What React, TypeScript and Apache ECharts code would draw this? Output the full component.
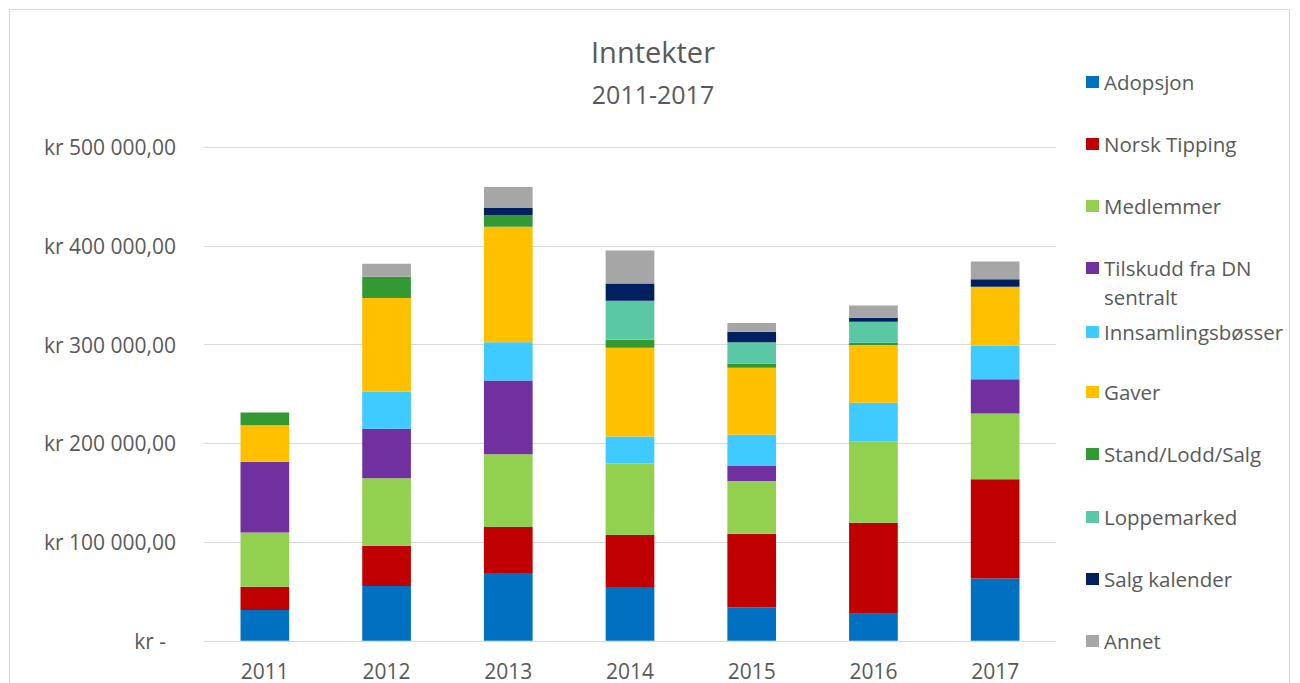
import React, { useEffect, useRef } from "react";
import * as echarts from "echarts";

const years = ["2011", "2012", "2013", "2014", "2015", "2016", "2017"];

const seriesNames = [
  "Adopsjon",
  "Norsk Tipping",
  "Medlemmer",
  "Tilskudd fra DN sentralt",
  "Innsamlingsbøsser",
  "Gaver",
  "Stand/Lodd/Salg",
  "Loppemarked",
  "Salg kalender",
  "Annet",
];

const adopsjon = [31100, 55400, 68600, 54400, 33800, 27400, 63200];
const norskTipping = [23600, 40900, 46600, 52700, 74600, 92200, 100600];
const medlemmer = [55100, 68500, 73700, 72600, 53400, 82700, 66600];
const tilskudd = [71600, 50000, 74900, 0, 15200, 0, 34700];
const innsamling = [0, 37900, 38800, 27400, 31700, 38800, 33800];
const gaver = [37100, 94500, 116900, 89800, 67900, 58500, 59800];
const standLoddSalg = [12900, 21600, 11800, 8100, 4400, 2300, 0];
const loppemarked = [0, 0, 0, 39500, 21600, 21300, 0];
const salgKalender = [0, 0, 7100, 17600, 10500, 4100, 7500];
const annet = [0, 13200, 21300, 33400, 8800, 12500, 18200];

const seriesValues = [
  adopsjon,
  norskTipping,
  medlemmer,
  tilskudd,
  innsamling,
  gaver,
  standLoddSalg,
  loppemarked,
  salgKalender,
  annet,
];

const colors = [
  "#0070C0",
  "#C00000",
  "#92D050",
  "#7030A0",
  "#3FCBFF",
  "#FFC000",
  "#339933",
  "#5BC8A5",
  "#002060",
  "#A6A6A6",
];

const yTicks = [0, 100000, 200000, 300000, 400000, 500000];

// legend icon centres (page y)
const legendCenters = [82, 144, 206, 268, 332, 392, 454, 517, 579, 641];

const FONT = "'Open Sans', 'Noto Sans', sans-serif";
const TEXT = "#595959";

function fmtKr(v: number): string {
  if (v === 0) return "{z|kr -}";
  const s = Math.round(v)
    .toString()
    .replace(/\B(?=(\d{3})+(?!\d))/g, " ");
  return "kr " + s + ",00";
}

export default function App() {
  const ref = useRef<HTMLDivElement>(null);

  useEffect(() => {
    document.documentElement.style.overflow = "hidden";
    document.body.style.overflow = "hidden";
    if (!ref.current) return;
    const chart = echarts.init(ref.current, null, { renderer: "svg" });

    const legends = seriesNames.map((name, i) => {
      const c = legendCenters[i] - 8;
      const isMulti = i === 3;
      return {
        data: [name],
        orient: "vertical",
        left: 1078,
        top: isMulti ? c - 43.5 : c - 11,
        padding: 0,
        itemWidth: 13,
        itemHeight: 12,
        icon: "rect",
        selectedMode: false,
        formatter: isMulti ? () => "\nTilskudd fra DN\nsentralt" : undefined,
        textStyle: isMulti
          ? {
              fontSize: 20.5,
              color: TEXT,
              fontFamily: FONT,
              lineHeight: 29,
            }
          : { fontSize: 20.5, color: TEXT, fontFamily: FONT, lineHeight: 22 },
      };
    });

    const option: any = {
      animation: false,
      backgroundColor: "#ffffff",
      title: [
        {
          text: "Inntekter",
          left: 645,
          top: 26,
          padding: 0,
          textAlign: "center",
          textStyle: {
            fontSize: 29,
            fontWeight: "normal",
            color: TEXT,
            fontFamily: FONT,
            lineHeight: 34,
          },
        },
        {
          text: "2011-2017",
          left: 645,
          top: 72,
          padding: 0,
          textAlign: "center",
          textStyle: {
            fontSize: 25,
            fontWeight: "normal",
            color: TEXT,
            fontFamily: FONT,
            lineHeight: 28,
          },
        },
      ],
      legend: legends,
      graphic: [
        {
          type: "rect",
          silent: true,
          shape: { x: 1.5, y: 1.5, width: 1280, height: 760 },
          style: { fill: "none", stroke: "#D9D9D9", lineWidth: 1 },
        },
      ],
      grid: {
        left: 196,
        top: 139.3,
        width: 852,
        height: 493.5,
        containLabel: false,
      },
      xAxis: {
        type: "category",
        data: years,
        axisLine: { show: true, lineStyle: { color: "#D9D9D9", width: 1 } },
        axisTick: { show: false },
        axisLabel: {
          fontSize: 21,
          color: TEXT,
          fontFamily: FONT,
          margin: 18,
          lineHeight: 24,
        },
      },
      yAxis: {
        type: "value",
        min: yTicks[0],
        max: yTicks[yTicks.length - 1],
        interval: yTicks[1] - yTicks[0],
        axisLine: { show: false },
        axisTick: { show: false },
        splitLine: { lineStyle: { color: "#D9D9D9", width: 1 } },
        axisLabel: {
          fontSize: 21,
          color: TEXT,
          fontFamily: FONT,
          margin: 28,
          formatter: (v: number) => fmtKr(v),
          rich: {
            z: {
              fontSize: 21,
              color: TEXT,
              fontFamily: FONT,
              padding: [0, 10, 0, 0],
            },
          },
        },
      },
      series: seriesNames.map((name, i) => ({
        name,
        type: "bar",
        stack: "total",
        barWidth: "40%",
        data: seriesValues[i],
        itemStyle: { color: colors[i], borderWidth: 0 },
        emphasis: { disabled: true },
      })),
    };

    chart.setOption(option);
    return () => {
      chart.dispose();
    };
  }, []);

  return <div ref={ref} style={{ width: 1284, height: 700 }} />;
}
